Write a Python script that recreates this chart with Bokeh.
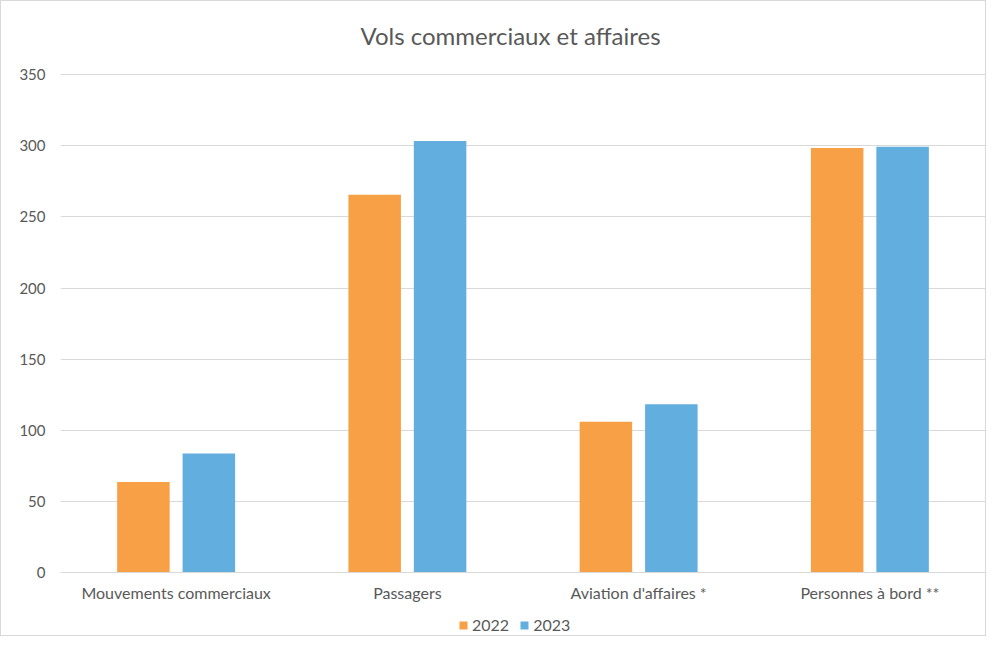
from bokeh.plotting import figure
from bokeh.layouts import column
from bokeh.models import FactorRange, Range1d, Legend, LegendItem, ColumnDataSource, FixedTicker
from bokeh.core.properties import value
from bokeh.transform import dodge
from bokeh.embed import file_html
from bokeh.resources import INLINE

title_text = "Vols commerciaux et affaires"
categories = ["Mouvements commerciaux", "Passagers", "Aviation d'affaires *", "Personnes à bord **"]
series = ["2022", "2023"]
values_2022 = [63.7, 265.6, 105.9, 298.4]
values_2023 = [83.6, 303.3, 118.3, 299.3]
y_ticks = [0, 50, 100, 150, 200, 250, 300, 350]
colors = ["#F7A046", "#62AEDE"]

TEXT = "#595959"
FONT = "Lato"
GRID = "#d9d9d9"
W = 984
LEFT = 59

# ---- title strip (its frame is aligned with the chart frame by the column layout) ----
TH = 56
tf = figure(width=W, height=TH, output_backend="svg", toolbar_location=None,
            x_range=Range1d(LEFT, W), y_range=Range1d(0, TH),
            x_axis_type=None, y_axis_type=None, min_border=0)
tf.outline_line_color = None
tf.xgrid.visible = False
tf.ygrid.visible = False
tf.text(x=[509], y=[TH - 34], text=[title_text], text_align="center", text_baseline="middle",
        text_font=value(FONT), text_font_size="24px", text_color=TEXT)

# ---- chart ----
src = ColumnDataSource(dict(cat=categories, v2022=values_2022, v2023=values_2023))

p = figure(x_range=FactorRange(*categories, range_padding=0),
           y_range=Range1d(0, 350.8),
           width=W, height=550, output_backend="svg", toolbar_location=None,
           min_border_left=LEFT, min_border_right=0, min_border_top=16, min_border_bottom=35)

r1 = p.vbar(x=dodge("cat", -0.1415, range=p.x_range), top="v2022", width=0.227,
            source=src, fill_color=colors[0], line_color=None)
r2 = p.vbar(x=dodge("cat", 0.1415, range=p.x_range), top="v2023", width=0.227,
            source=src, fill_color=colors[1], line_color=None)

p.outline_line_color = None
p.xgrid.grid_line_color = None
p.ygrid.grid_line_color = GRID
p.ygrid.grid_line_width = 1
p.yaxis.ticker = FixedTicker(ticks=y_ticks)

for ax in (p.xaxis[0], p.yaxis[0]):
    ax.major_tick_line_color = None
    ax.minor_tick_line_color = None
    ax.major_tick_out = 0
    ax.major_tick_in = 0
    ax.major_label_text_font = FONT
    ax.major_label_text_color = TEXT
p.yaxis.major_label_text_font_size = "15px"
p.xaxis.major_label_text_font_size = "16px"
p.yaxis.axis_line_color = None
p.yaxis.major_label_standoff = 15
p.xaxis.axis_line_color = GRID
p.xaxis.major_label_standoff = 10

# ---- legend strip ----
lf = figure(width=W, height=28, output_backend="svg", toolbar_location=None,
            x_range=Range1d(0, 1), y_range=Range1d(0, 1),
            x_axis_type=None, y_axis_type=None, min_border=0)
lf.outline_line_color = None
lf.xgrid.visible = False
lf.ygrid.visible = False
dummy = ColumnDataSource(dict(x=[-10], top=[-10]))
l1 = lf.vbar(x="x", top="top", width=0.1, source=dummy, fill_color=colors[0], line_color=None)
l2 = lf.vbar(x="x", top="top", width=0.1, source=dummy, fill_color=colors[1], line_color=None)
legend = Legend(items=[LegendItem(label=series[0], renderers=[l1]),
                       LegendItem(label=series[1], renderers=[l2])],
                orientation="horizontal", location=(398, 1),
                glyph_width=10, glyph_height=10, label_standoff=4, spacing=10,
                padding=0, margin=0, border_line_color=None, background_fill_alpha=0,
                label_text_font=FONT, label_text_font_size="16px", label_text_color=TEXT,
                label_height=16)
lf.add_layout(legend, "center")

layout = column(tf, p, lf, spacing=0)
layout.styles = {"border": "1px solid #d9d9d9"}

open("out.html", "w").write(file_html(layout, INLINE))
